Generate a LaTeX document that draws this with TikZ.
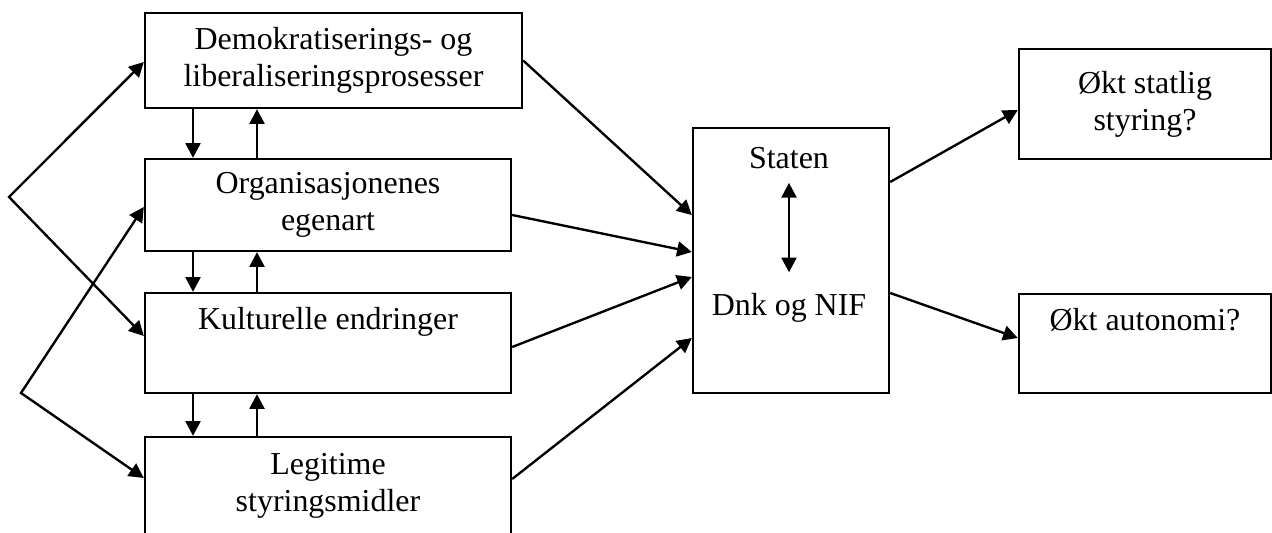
\documentclass[tikz,border=0pt]{standalone}
\usepackage{fontspec}
\setmainfont{Liberation Serif}
\usetikzlibrary{arrows.meta}
\newlength{\px}
\setlength{\px}{0.36pt}

\begin{document}
\begin{tikzpicture}[x=\px,y=-\px,line width=0.85pt,
  >={Triangle[length=5.3pt,width=5.4pt]},
  box/.style={draw,align=center,inner sep=0pt,font=\fontsize{11.5}{13.4}\selectfont},
  lab/.style={inner sep=0pt,font=\fontsize{11.5}{13.4}\selectfont}]
\useasboundingbox (0,0) rectangle (1272,533);
% the four factors on the left
\node[box,minimum width=377\px,minimum height=95\px] (demo) at (333.5,60.5)
  {Demokratiserings- og\\liberaliseringsprosesser};
\node[box,minimum width=366\px,minimum height=92\px] (org) at (328,205)
  {Organisasjonenes\\egenart};
\node[box,minimum width=366\px,minimum height=100\px] (kult) at (328,343)
  {Kulturelle endringer\\\strut};
\node[box,minimum width=366\px,minimum height=98\px] (legit) at (328,486)
  {Legitime\\styringsmidler};
% the relation in the middle
\node[box,minimum width=196\px,minimum height=265\px] (rel) at (791,260.5) {};
\node[lab] (staten) at (789,158) {Staten};
\node[lab] (dnk) at (789,308) {Dnk og NIF};
\draw[<->] ([yshift=-13\px]staten.south) -- ([yshift=20\px]dnk.north);
% the two outcomes
\node[box,minimum width=252\px,minimum height=110\px] (styr) at (1145,104)
  {Økt statlig\\styring?};
\node[box,minimum width=252\px,minimum height=99\px] (auto) at (1145,343.5)
  {Økt autonomi?\\\strut};
% links between neighbouring factors
\draw[->] (demo.south -| 193,0) -- (org.north -| 193,0);
\draw[->] (org.north -| 257,0) -- (demo.south -| 257,0);
\draw[->] (org.south -| 193,0) -- (kult.north -| 193,0);
\draw[->] (kult.north -| 257,0) -- (org.south -| 257,0);
\draw[->] (kult.south -| 193,0) -- (legit.north -| 193,0);
\draw[->] (legit.north -| 257,0) -- (kult.south -| 257,0);
% the two forks on the far left
\coordinate (fa) at (9,197);
\coordinate (fb) at (21,393);
\draw[<->] (demo.west |- 0,62) -- (fa) -- (kult.west |- 0,336);
\draw[<->] (org.west |- 0,207) -- (fb) -- (legit.west |- 0,478);
% factors into the relation
\draw[->] (demo.east) -- (rel.west |- 0,215);
\draw[->] (org.east |- 0,215) -- (rel.west |- 0,252);
\draw[->] (kult.east |- 0,347) -- (rel.west |- 0,277);
\draw[->] (legit.east |- 0,479) -- (rel.west |- 0,338);
% relation to the outcomes
\draw[->] (rel.east |- 0,182) -- (styr.west |- 0,110);
\draw[->] (rel.east |- 0,293) -- (auto.west |- 0,338);
\end{tikzpicture}
\end{document}
